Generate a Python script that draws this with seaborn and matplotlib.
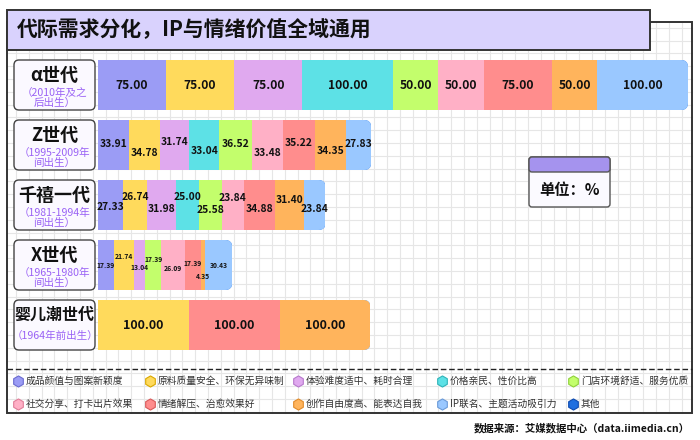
import numpy as np
import pandas as pd
import matplotlib
matplotlib.use("Agg")
import matplotlib.pyplot as plt
import seaborn as sns
from matplotlib.patches import FancyBboxPatch, Rectangle
from matplotlib.lines import Line2D

plt.rcParams['font.family'] = ['Noto Sans CJK SC', 'DejaVu Sans']

# ---------------- data ----------------
title = '代际需求分化，IP与情绪价值全域通用'
generations = ['α世代', 'Z世代', '千禧一代', 'X世代', '婴儿潮世代']
generation_notes = ['（2010年及之\n后出生）', '（1995-2009年\n间出生）',
                    '（1981-1994年\n间出生）', '（1965-1980年\n间出生）', '（1964年前出生）']
categories = ['成品颜值与图案新颖度', '原料质量安全、环保无异味制', '体验难度适中、耗时合理',
              '价格亲民、性价比高', '门店环境舒适、服务优质', '社交分享、打卡出片效果',
              '情绪解压、治愈效果好', '创作自由度高、能表达自我', 'IP联名、主题活动吸引力', '其他']
v_look     = [75, 33.91, 27.33, 17.39, 0]
v_material = [75, 34.78, 26.74, 21.74, 100]
v_difficulty = [75, 31.74, 31.98, 13.04, 0]
v_price    = [100, 33.04, 25.00, 0, 0]
v_store    = [50, 36.52, 25.58, 17.39, 0]
v_social   = [50, 33.48, 23.84, 26.09, 0]
v_emotion  = [75, 35.22, 34.88, 17.39, 100]
v_creative = [50, 34.35, 31.40, 4.35, 100]
v_ip       = [100, 27.83, 23.84, 30.43, 0]
v_other    = [0, 0, 0, 0, 0]
unit_text = '单位：%'
source_text = '数据来源：艾媒数据中心（data.iimedia.cn）'

# ---------------- styles ----------------
colors = ['#9b9cf5', '#ffda5c', '#e0a9ef', '#5de1e6', '#c3fe6c',
          '#ffb0c6', '#ff8d8d', '#ffb45c', '#9ac8ff', '#1f6fe0']
marker_edges = ['#6a6bd0', '#d9a800', '#b779cc', '#2fb3b8', '#8fd13a',
                '#e07d98', '#d85a5a', '#e08a2a', '#6a9ad8', '#0d4ab0']
label_sizes = [8.7, 7.4, 7.4, 4.9, 9.0]
label_offsets = [
    [0, 0, 0, 0, 0, 0, 0, 0, 0],
    [-1, 8, -3, 6, -1, 8, -2, 6, -1],
    [2, -8, 4, -8, 5, -7, 4, -5, 4],
    [0, -9, 2, -6, 3, -2, 11, 0],
    [0, 0, 0],
]

values = [v_look, v_material, v_difficulty, v_price, v_store, v_social,
          v_emotion, v_creative, v_ip, v_other]
df = pd.DataFrame({c: v for c, v in zip(categories, values)}, index=generations)
cum = df.cumsum(axis=1)
totals = cum.iloc[:, -1].values

fig = plt.figure(figsize=(7, 4.4), dpi=100)
fig.patch.set_facecolor('white')
bg = fig.add_axes([0, 0, 1, 1], zorder=0)
bg.set_xlim(0, 700)
bg.set_ylim(440, 0)
bg.axis('off')

PX0, PX1, PY0, PY1 = 7, 692, 22, 413
# grid background
for x in np.arange(3.2, 700, 12.8):
    if PX0 < x < PX1:
        bg.plot([x, x], [PY0, PY1], color='#e6e6e6', lw=0.8, zorder=1)
for y in np.arange(15.0, 440, 12.8):
    if PY0 < y < PY1:
        bg.plot([PX0, PX1], [y, y], color='#e6e6e6', lw=0.8, zorder=1)
bg.add_patch(Rectangle((PX0, PY0), PX1 - PX0, PY1 - PY0, fill=False,
                       ec='#333333', lw=1.4, zorder=3))
# title
bg.add_patch(Rectangle((7, 10), 643, 40, fc='#d9d2fd', ec='#333333', lw=1.4, zorder=4))
bg.text(17, 30, title, fontsize=15, fontweight='bold', va='center', ha='left',
        color='#111111', zorder=5)

# generation label boxes
for i, (g, note) in enumerate(zip(generations, generation_notes)):
    yc = 85 + 60 * i
    bg.add_patch(FancyBboxPatch((14, yc - 25), 81, 50,
                                boxstyle='round,pad=0,rounding_size=5',
                                fc='#fbf9ff', ec='#444444', lw=1.0, zorder=4))
    lines = note.split('\n')
    if len(lines) == 2:
        bg.text(54.5, yc - 9.5, g, fontsize=13, fontweight='bold', ha='center',
                va='center', color='#111111', zorder=5)
        bg.text(54.5, yc + 8, lines[0], fontsize=7.6, ha='center', va='center',
                color='#9a62f5', zorder=5)
        bg.text(54.5, yc + 17.5, lines[1], fontsize=7.6, ha='center', va='center',
                color='#9a62f5', zorder=5)
    else:
        bg.text(54.5, yc - 10, g, fontsize=11.5, fontweight='bold', ha='center',
                va='center', color='#111111', zorder=5)
        bg.text(54.5, yc + 11, note, fontsize=7.6, ha='center', va='center',
                color='#9a62f5', zorder=5)

# unit box
bg.add_patch(FancyBboxPatch((529, 157), 81, 50, boxstyle='round,pad=0,rounding_size=3',
                            fc='#fbfaff', ec='#555555', lw=1.0, zorder=4))
bg.add_patch(FancyBboxPatch((529, 157), 81, 15, boxstyle='round,pad=0,rounding_size=3',
                            fc='#a593ee', ec='#555555', lw=1.0, zorder=5))
bg.text(569.5, 190, unit_text, fontsize=11, fontweight='bold', ha='center',
        va='center', color='#111111', zorder=6)

# dashed separator
bg.plot([PX0, PX1], [369, 369], color='#222222', lw=1.0, ls=(0, (4, 2)), zorder=4)

# legend
col_x = [18, 150, 298, 442, 573]
row_y = [381, 404]
for k, cat in enumerate(categories):
    r, c = divmod(k, 5)
    bg.plot(col_x[c], row_y[r], marker='h', ms=8, mfc=colors[k], mec=marker_edges[k],
            mew=0.8, zorder=5)
    bg.text(col_x[c] + 8, row_y[r], cat, fontsize=7, ha='left', va='center',
            color='#333333', zorder=5)

# source
bg.text(690, 428, source_text, fontsize=7.5, fontweight='bold', ha='right',
        va='center', color='#111111', zorder=5)

# ---------------- stacked bars ----------------
ax = fig.add_axes([98 / 700, 1 - 355 / 440, 590 / 700, 300 / 440], zorder=2)
ax.patch.set_alpha(0)
BAR_H = 50 / 60
XMAX = 650
px_x = XMAX / 590.0
r_px = 7
r_x = r_px * px_x
m_aspect = (r_px / 60.0) / r_x

clips = []
for i in range(len(generations)):
    clips.append(FancyBboxPatch((-40, i - BAR_H / 2), totals[i] + 40, BAR_H,
                                boxstyle=f'round,pad=0,rounding_size={r_x}',
                                mutation_aspect=m_aspect, transform=ax.transData))

for k in reversed(range(len(categories))):
    sub = pd.DataFrame({'generation': generations, 'end': cum.iloc[:, k].values})
    sns.barplot(data=sub, x='end', y='generation', order=generations, orient='h',
                color=colors[k], saturation=1, width=BAR_H, errorbar=None, ax=ax,
                edgecolor='none', linewidth=0)
    cont = ax.containers[-1]
    for i, bar in enumerate(cont):
        bar.set_clip_path(clips[i])

# value labels
for i in range(len(generations)):
    j = 0
    start = 0.0
    for k in range(len(categories)):
        v = df.iloc[i, k]
        if v > 0:
            off = label_offsets[i][j] if j < len(label_offsets[i]) else 0
            ax.text(start + v / 2, i + off / 60.0, f'{v:.2f}', ha='center', va='center',
                    fontsize=label_sizes[i], fontweight='bold', color='#111111', zorder=5)
            j += 1
        start += v

ax.set_xlim(0, XMAX)
ax.set_ylim(4.5, -0.5)
ax.axis('off')

fig.savefig('out.png', dpi=100, facecolor='white')
